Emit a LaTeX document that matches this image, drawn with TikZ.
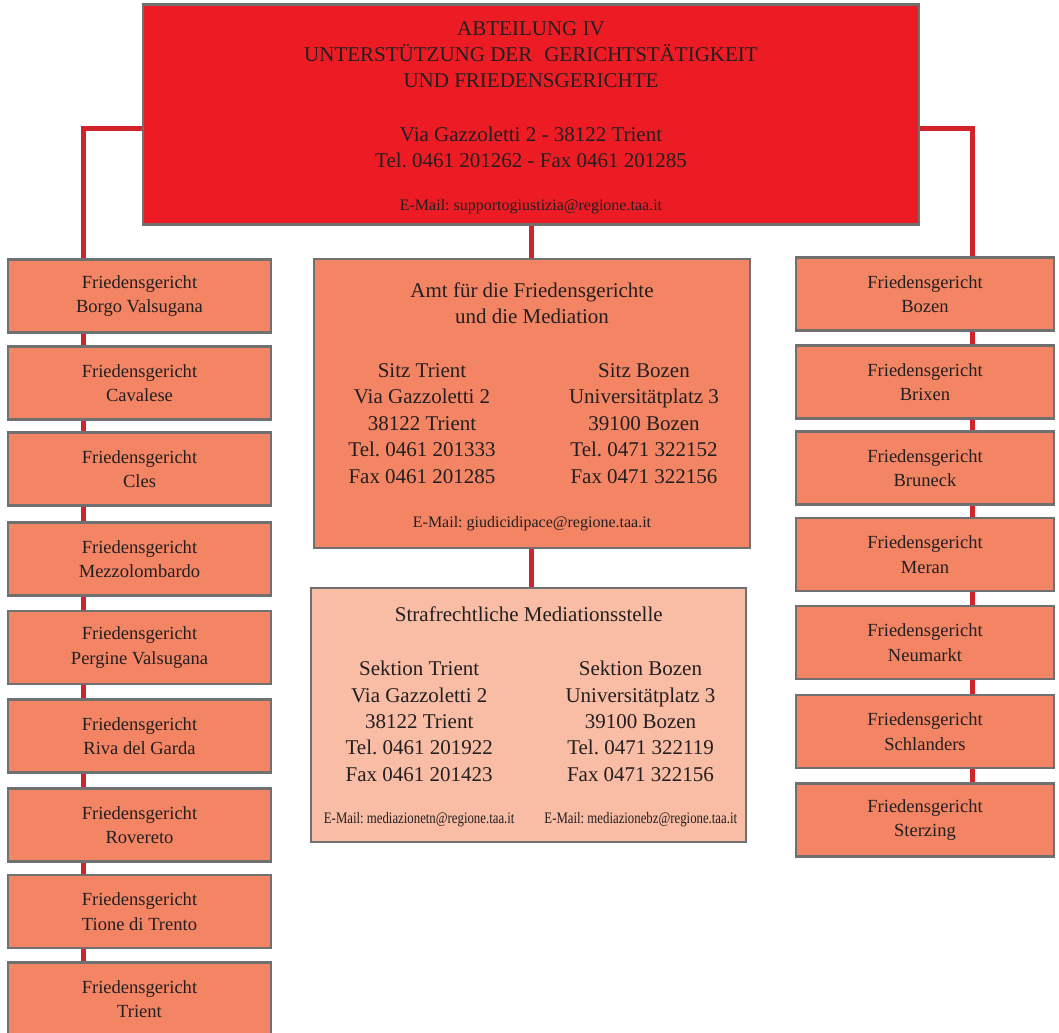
\documentclass[tikz,border=0pt]{standalone}
\usepackage{fontspec}
\setmainfont{Liberation Serif}
\newfontfamily\narrowserif{Liberation Serif}[FakeStretch=0.8]
\usetikzlibrary{backgrounds}
\frenchspacing

\definecolor{topred}{RGB}{237,28,36}
\definecolor{linkred}{RGB}{210,35,42}
\definecolor{salmon}{RGB}{243,133,101}
\definecolor{peach}{RGB}{249,188,164}
\definecolor{frame}{RGB}{112,112,112}
\definecolor{ink}{RGB}{35,31,32}

\tikzset{every picture/.style={line width=0.75pt}}
\tikzset{
	box/.style={draw=frame, line width=1.9pt, fill=salmon, inner sep=0pt, text=ink, align=center},
	court/.style={box, minimum height=54.75pt, font=\fontsize{13.9}{18.4}\selectfont},
	courtL/.style={court, minimum width=197.25pt},
	courtR/.style={court, minimum width=193.5pt},
	big/.style={text=ink, align=center, font=\fontsize{15.75}{19.8}\selectfont},
	mail/.style={text=ink, font=\fontsize{12}{14}\selectfont},
	link/.style={draw=linkred, line width=3.75pt}
}

\begin{document}
\begin{tikzpicture}[x=0.75pt,y=0.75pt,yscale=-1,xscale=1]
	\useasboundingbox (0,0) rectangle (1059,1032);

	% Head Node
	\node[box, fill=topred, minimum width=582pt, minimum height=165pt, font=\fontsize{15.75}{19.7}\selectfont] (abt) at (531,114.5) {\rule{0pt}{15.2pt}ABTEILUNG IV\\ UNTERSTÜTZUNG DER\hspace{9pt}GERICHTSTÄTIGKEIT\\ UND FRIEDENSGERICHTE\\[20.5pt] Via Gazzoletti 2 - 38122 Trient\\ Tel. 0461 201262 - Fax 0461 201285\\[12.3pt] {\fontsize{12}{14}\selectfont E-Mail: supportogiustizia@regione.taa.it}};

	% Court Nodes, left
	\node[courtL] (fgBorgo) at (139.5,296) {Friedensgericht\\Borgo Valsugana};
	\node[courtL] (fgCavalese) at (139.5,383) {Friedensgericht\\Cavalese};
	\node[courtL] (fgCles) at (139.5,469) {Friedensgericht\\Cles};
	\node[courtL] (fgMezzo) at (139.5,559) {Friedensgericht\\Mezzolombardo};
	\node[courtL] (fgPergine) at (139.5,647.5) {Friedensgericht\\Pergine Valsugana};
	\node[courtL] (fgRiva) at (139.5,736) {Friedensgericht\\Riva del Garda};
	\node[courtL] (fgRovereto) at (139.5,825) {Friedensgericht\\Rovereto};
	\node[courtL] (fgTione) at (139.5,911.5) {Friedensgericht\\Tione di Trento};
	\node[courtL] (fgTrient) at (139.5,999) {Friedensgericht\\Trient};

	% Court Nodes, right
	\node[courtR] (fgBozen) at (925,294) {Friedensgericht\\Bozen};
	\node[courtR] (fgBrixen) at (925,382) {Friedensgericht\\Brixen};
	\node[courtR] (fgBruneck) at (925,468) {Friedensgericht\\Bruneck};
	\node[courtR] (fgMeran) at (925,554.5) {Friedensgericht\\Meran};
	\node[courtR] (fgNeumarkt) at (925,642.5) {Friedensgericht\\Neumarkt};
	\node[courtR] (fgSchlanders) at (925,731.5) {Friedensgericht\\Schlanders};
	\node[courtR] (fgSterzing) at (925,820) {Friedensgericht\\Sterzing};

	% Office Node
	\node[box, minimum width=327pt, minimum height=216.75pt] (amt) at (532,403.5) {};
	% Text Node
	\node[big] (amtHead) at (532,303.5) {Amt für die Friedensgerichte\\und die Mediation};
	% Text Node
	\node[big] (sitzTN) at (422,423.5) {Sitz Trient\\Via Gazzoletti 2\\38122 Trient\\Tel. 0461 201333\\Fax 0461 201285};
	% Text Node
	\node[big] (sitzBZ) at (644,423.5) {Sitz Bozen\\Universitätplatz 3\\39100 Bozen\\Tel. 0471 322152\\Fax 0471 322156};
	% Text Node
	\node[mail] (amtMail) at (532,523.5) {E-Mail: giudicidipace@regione.taa.it};

	% Mediation Node
	\node[box, fill=peach, minimum width=326.25pt, minimum height=190.5pt] (med) at (528.7,715) {};
	% Text Node
	\node[big] (medHead) at (528.8,614) {Strafrechtliche Mediationsstelle};
	% Text Node
	\node[big] (sekTN) at (419.2,721.3) {Sektion Trient\\Via Gazzoletti 2\\38122 Trient\\Tel. 0461 201922\\Fax 0461 201423};
	% Text Node
	\node[big] (sekBZ) at (640.5,721.3) {Sektion Bozen\\Universitätplatz 3\\39100 Bozen\\Tel. 0471 322119\\Fax 0471 322156};
	% Text Node
	\node[mail, font=\narrowserif\fontsize{12}{14}\selectfont] (sekTNmail) at (419.2,819.6) {E-Mail: mediazionetn@regione.taa.it};
	% Text Node
	\node[mail, font=\narrowserif\fontsize{12}{14}\selectfont] (sekBZmail) at (640.8,819.6) {E-Mail: mediazionebz@regione.taa.it};

	% Links
	\coordinate (lTrunk) at (83,128);
	\coordinate (rTrunk) at (972,128);
	\begin{scope}[on background layer]
		\draw[link] (abt.west |- lTrunk) -- (lTrunk) -- (lTrunk |- fgTrient.north);
		\draw[link] (abt.east |- rTrunk) -- (rTrunk) -- (rTrunk |- fgSterzing.north);
		\draw[link] (abt.south) -- (abt.south |- amt.north);
		\draw[link] (abt.south |- amt.south) -- (abt.south |- med.north);
	\end{scope}
\end{tikzpicture}
\end{document}
